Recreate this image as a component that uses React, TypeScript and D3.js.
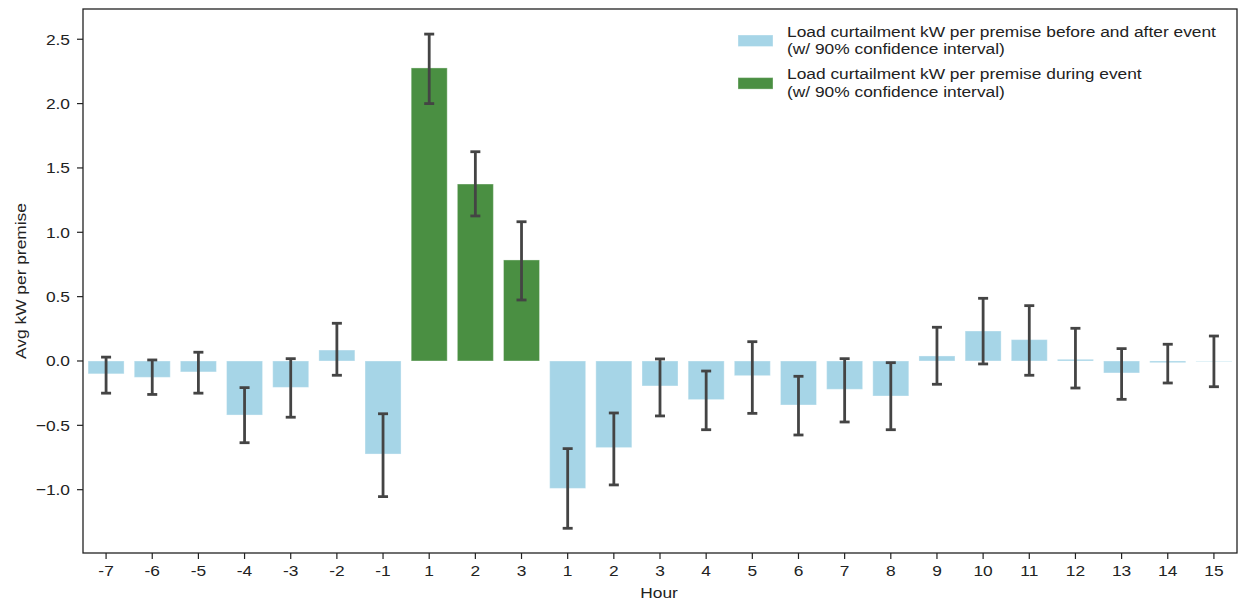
import React from "react";
import * as d3 from "d3";

const hours = ["-7","-6","-5","-4","-3","-2","-1","1","2","3","1","2","3","4","5","6","7","8","9","10","11","12","13","14","15"];
const phase = ["pre","pre","pre","pre","pre","pre","pre","event","event","event","post","post","post","post","post","post","post","post","post","post","post","post","post","post","post"];
const kwValues = [-0.10,-0.127,-0.085,-0.42,-0.205,0.085,-0.723,2.277,1.375,0.785,-0.99,-0.673,-0.194,-0.30,-0.114,-0.342,-0.22,-0.272,0.039,0.233,0.166,0.013,-0.093,-0.013,-0.003];
const ciLow = [-0.25,-0.26,-0.25,-0.635,-0.437,-0.111,-1.054,2.0,1.127,0.474,-1.30,-0.963,-0.427,-0.534,-0.407,-0.575,-0.474,-0.534,-0.181,-0.023,-0.111,-0.21,-0.298,-0.171,-0.20];
const ciHigh = [0.03,0.008,0.068,-0.207,0.018,0.293,-0.41,2.54,1.626,1.082,-0.681,-0.404,0.016,-0.078,0.15,-0.119,0.018,-0.013,0.262,0.487,0.43,0.254,0.096,0.13,0.194];
const yTicks = [-1.0,-0.5,0.0,0.5,1.0,1.5,2.0,2.5];
const legendLabels = [
  ["Load curtailment kW per premise before and after event", "(w/ 90% confidence interval)"],
  ["Load curtailment kW per premise during event", "(w/ 90% confidence interval)"],
];

const W = 1238, H = 602;
const L = 83, T = 9, R = 1237, B = 553;
const BLUE = "#a6d5e7";
const GREEN = "#4a8f42";
const ERR = "#444444";
const FONT = "'Liberation Sans', Arial, sans-serif";
const FS = 15.5;
const SX = 1.12;

function Txt(props: { x: number; y: number; anchor?: string; rotate?: number; children: React.ReactNode }) {
  const { x, y, anchor = "start", rotate = 0, children } = props;
  return (
    <g transform={`translate(${x},${y}) rotate(${rotate}) scale(${SX},1)`}>
      <text x={0} y={0} textAnchor={anchor} fontSize={FS} fill="#222">{children}</text>
    </g>
  );
}

export default function App() {
  const idx = hours.map((_, i) => i);
  const x = d3.scaleBand<number>().domain(idx).range([L, R]).paddingInner(0.22).paddingOuter(0.11);
  const y = d3.scaleLinear().domain([-1.492, 2.735]).range([B, T]);
  const bw = x.bandwidth();
  const cap = 5;
  const fmt = (v: number) => d3.format(".1f")(v).replace("-", "\u2212");
  return (
    <svg width={W} height={H} style={{ position: "absolute", left: 0, top: 0, background: "#fff" }} fontFamily={FONT}>
      {idx.map((i) => {
        const v = kwValues[i];
        const y0 = y(Math.max(0, v));
        const y1 = y(Math.min(0, v));
        return (
          <rect key={"b" + i} x={x(i)} y={y0} width={bw} height={Math.max(0.5, y1 - y0)}
            fill={phase[i] === "event" ? GREEN : BLUE} stroke="rgba(255,255,255,0.35)" strokeWidth={1} />
        );
      })}
      {idx.map((i) => {
        const cx = (x(i) as number) + bw / 2;
        return (
          <g key={"e" + i} stroke={ERR} strokeWidth={2.8}>
            <line x1={cx} x2={cx} y1={y(ciLow[i])} y2={y(ciHigh[i])} />
            <line x1={cx - cap} x2={cx + cap} y1={y(ciLow[i])} y2={y(ciLow[i])} />
            <line x1={cx - cap} x2={cx + cap} y1={y(ciHigh[i])} y2={y(ciHigh[i])} />
          </g>
        );
      })}
      <rect x={L} y={T} width={R - L} height={B - T} fill="none" stroke="#222" strokeWidth={1.3} />
      {yTicks.map((t) => (
        <g key={"y" + t}>
          <line x1={L - 6} x2={L} y1={y(t)} y2={y(t)} stroke="#222" strokeWidth={1.2} />
          <Txt x={L - 13} y={y(t) + 5.5} anchor="end">{fmt(t)}</Txt>
        </g>
      ))}
      {idx.map((i) => {
        const cx = (x(i) as number) + bw / 2;
        return (
          <g key={"x" + i}>
            <line x1={cx} x2={cx} y1={B} y2={B + 6} stroke="#222" strokeWidth={1.2} />
            <Txt x={cx} y={576} anchor="middle">{hours[i]}</Txt>
          </g>
        );
      })}
      <Txt x={659} y={598} anchor="middle">Hour</Txt>
      <Txt x={25.5} y={(T + B) / 2} anchor="middle" rotate={-90}>Avg kW per premise</Txt>
      {legendLabels.map((lines, k) => (
        <g key={"l" + k}>
          <rect x={738} y={35 + k * 42.6} width={35} height={11.5} fill={k === 0 ? BLUE : GREEN} stroke="rgba(255,255,255,0.35)" />
          {lines.map((s, j) => (
            <Txt key={j} x={787} y={36.7 + k * 42.6 + j * 17.6}>{s}</Txt>
          ))}
        </g>
      ))}
    </svg>
  );
}
